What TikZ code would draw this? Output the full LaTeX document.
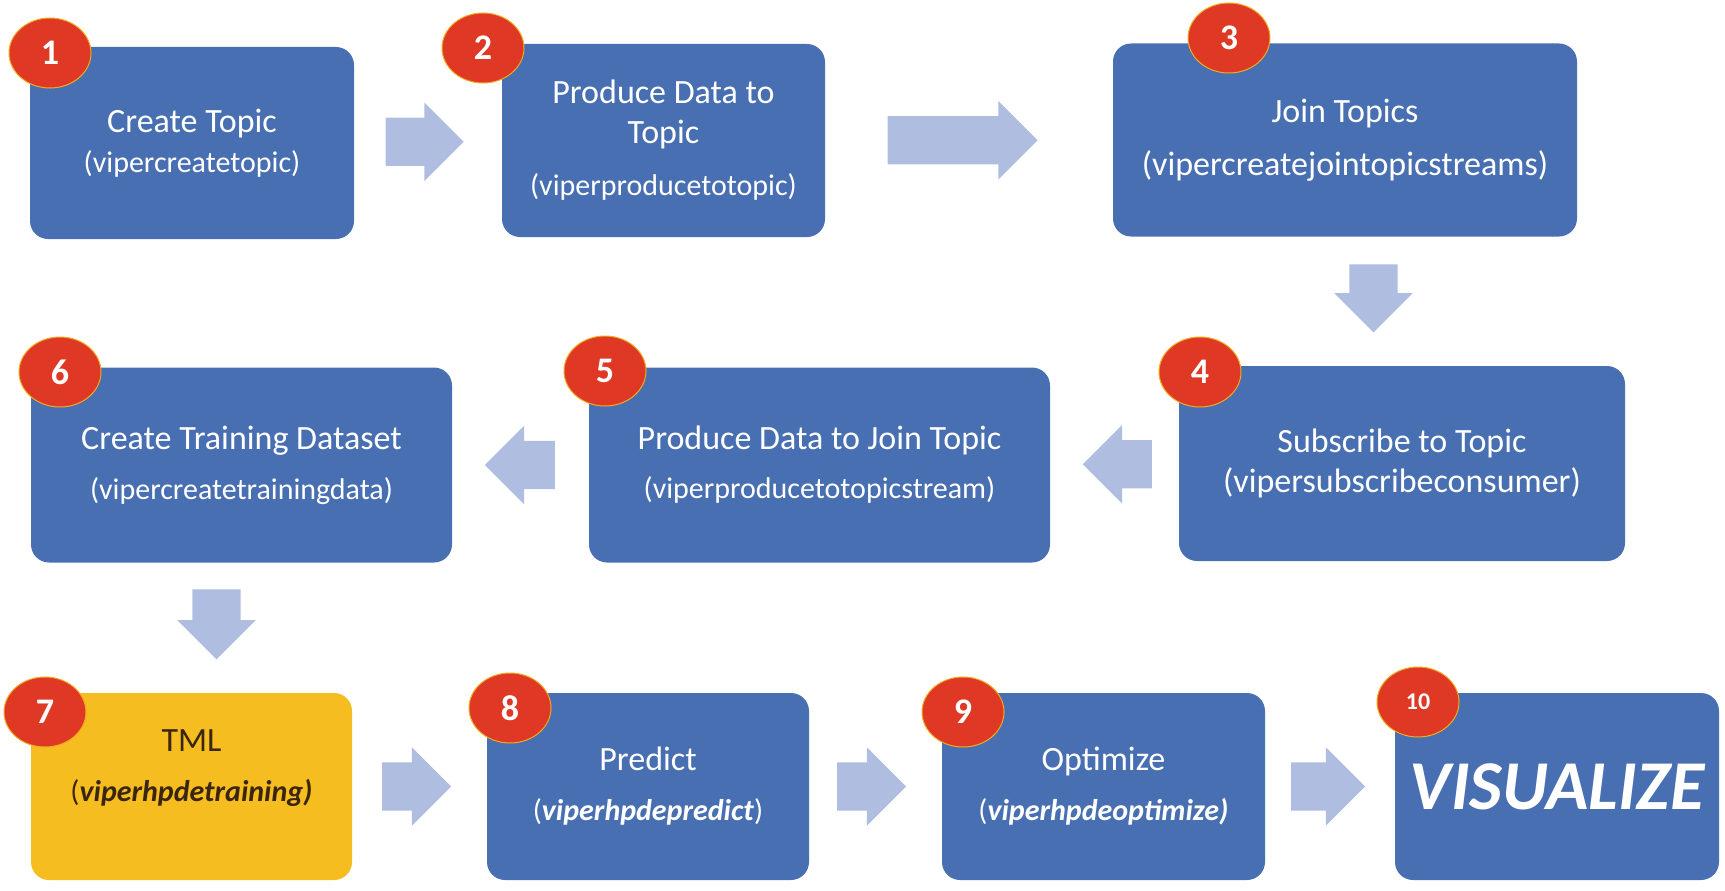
\documentclass[tikz,border=0pt]{standalone}
\usepackage{fontspec}
\setmainfont{Carlito}
\usetikzlibrary{shapes.arrows,shapes.geometric,calc}

\definecolor{boxblue}{RGB}{72,111,178}
\definecolor{arrowblue}{RGB}{174,189,224}
\definecolor{badgered}{RGB}{223,56,37}
\definecolor{badgerim}{RGB}{240,172,30}
\definecolor{tmlgold}{RGB}{246,189,33}
\definecolor{tmlink}{RGB}{58,38,12}

\newcommand{\subfont}{\fontsize{30}{36}\selectfont}
\newcommand{\fnname}[1]{\textbf{\textit{#1}}}

\begin{document}
\begin{tikzpicture}[x=1pt,y=-1pt,
  stepbox/.style={rectangle,rounded corners=18pt,fill=boxblue,text=white,
    align=center,inner sep=0pt,font=\fontsize{34}{40}\selectfont},
  badge/.style={ellipse,fill=badgered,draw=badgerim,line width=1pt,
    minimum width=82pt,minimum height=70pt,inner sep=0pt,text=white,
    font=\fontsize{36}{36}\selectfont\bfseries},
  blockarrow/.style={single arrow,fill=arrowblue,inner xsep=0pt,inner ysep=24pt,
    single arrow head extend=15pt}]

\useasboundingbox (0,0) rectangle (1725,891);

% row 1
\node[stepbox,minimum width=324pt,minimum height=192pt] (create) at (192,143)
  {Create Topic\\\subfont(vipercreatetopic)};
\node[stepbox,minimum width=323pt,minimum height=193pt] (produce) at (663.5,140.5)
  {Produce Data to\\Topic\\[12pt]\subfont(viperproducetotopic)};
\node[stepbox,minimum width=464pt,minimum height=193pt] (join) at (1345,140)
  {Join Topics\\[13pt](vipercreatejointopicstreams)};

% row 2
\node[stepbox,minimum width=446pt,minimum height=195pt] (subscribe) at (1402,463.5)
  {Subscribe to Topic\\(vipersubscribeconsumer)};
\node[stepbox,minimum width=461pt,minimum height=195pt] (prodjoin) at (819.5,465)
  {Produce Data to Join Topic\\[9pt]\subfont(viperproducetotopicstream)};
\node[stepbox,minimum width=421pt,minimum height=195pt] (training) at (241.5,465)
  {Create Training Dataset\\[10pt]\subfont(vipercreatetrainingdata)};

% row 3
\node[stepbox,fill=tmlgold,minimum width=321pt,minimum height=187pt] (tml) at (191.5,786.5) {};
\node[text=tmlink,align=center,font=\fontsize{34}{40}\selectfont] (tmllabel)
  at ([yshift=18pt]tml.center) {TML\\[10pt]\subfont(\fnname{viperhpdetraining)}};
\node[stepbox,minimum width=322pt,minimum height=187pt] (predict) at (648,786.5)
  {Predict\\[10pt]\subfont(\fnname{viperhpdepredict})};
\node[stepbox,minimum width=323pt,minimum height=187pt] (optimize) at (1103.5,786.5)
  {Optimize\\[10pt]\subfont(\fnname{viperhpdeoptimize)}};
\node[stepbox,minimum width=324pt,minimum height=187pt,
  font=\fontsize{70}{74}\selectfont\bfseries\itshape] (visualize) at (1557,786.5) {VISUALIZE};

% block arrows (node centre sits on the shaft, so pull back towards the tail)
\node[blockarrow,minimum height=78pt] (a12) at ($(create.east)!0.5!(produce.west)+(-15.5,0)$) {};
\node[blockarrow,minimum height=150pt] (a23) at ($(produce.east)!0.5!(join.west)+(-18.5,0)$) {};
\node[blockarrow,minimum height=68pt,rotate=-90] (a34) at ($(join.south)!0.5!(subscribe.north)+(0,-15)$) {};
\node[blockarrow,minimum height=69pt,rotate=180] (a45) at ($(subscribe.west)!0.5!(prodjoin.east)+(15,0)$) {};
\node[blockarrow,minimum height=70pt,rotate=180] (a56) at ($(prodjoin.west)!0.5!(training.east)+(11.5,0)$) {};
\node[blockarrow,minimum height=70pt,rotate=-90] (a67) at ($(training.south)!0.5!(tml.north)+(0,-15.5)$) {};
\node[blockarrow,minimum height=69pt] (a78) at ($(tml.east)!0.5!(predict.west)+(-15,0)$) {};
\node[blockarrow,minimum height=69pt] (a89) at ($(predict.east)!0.5!(optimize.west)+(-16,0)$) {};
\node[blockarrow,minimum height=74pt] (a910) at ($(optimize.east)!0.5!(visualize.west)+(-14,0)$) {};

% number badges
\foreach \num/\bx/\by in {1/50/53,2/483/48,3/1229/38,4/1200/372,5/605/371,
    6/60/372,7/45/712,8/510/708,9/963/712}
  \node[badge] (n\num) at (\bx,\by) {\num};
\node[badge,font=\fontsize{24}{24}\selectfont\bfseries] (n10) at (1418,702) {10};
\end{tikzpicture}
\end{document}
